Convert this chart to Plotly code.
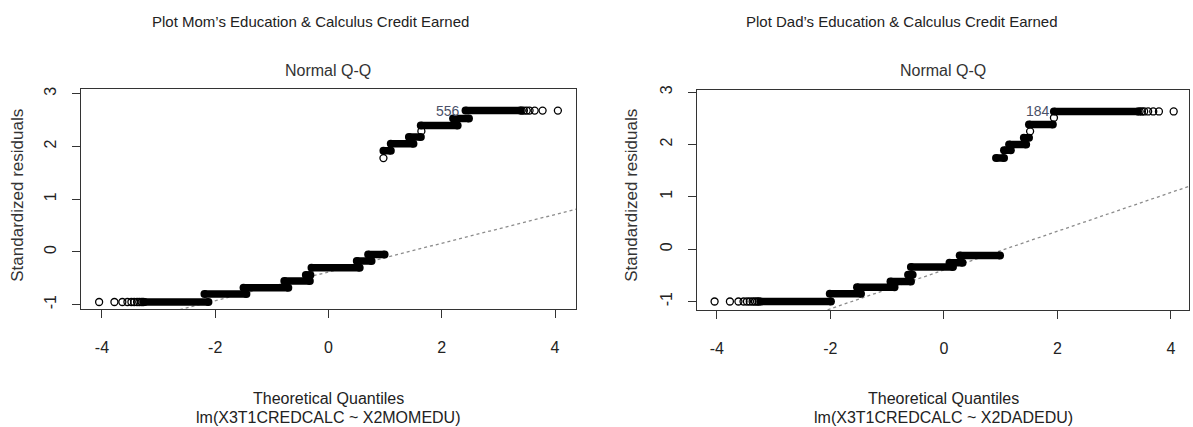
import plotly.graph_objects as go

W, H = 1193, 427

# ---------------- data ----------------
TICKS_X = [-4, -2, 0, 2, 4]
TICKS_Y = [-1, 0, 1, 2, 3]

# Mom's education model
MOM_STEP_Y  = [-0.95, -0.80, -0.68, -0.55, -0.44, -0.30, -0.17, -0.05, 1.92, 2.05, 2.18, 2.40, 2.53, 2.68]
MOM_STEP_X0 = [-3.25, -2.19, -1.50, -0.78, -0.40,  -0.30, 0.50, 0.70, 0.97, 1.10, 1.42, 1.63, 2.20, 2.42]
MOM_STEP_X1 = [-2.12, -1.45, -0.71, -0.33, -0.32,  0.55, 0.76, 0.99, 1.10, 1.50, 1.63, 2.28, 2.48, 3.39]
MOM_SINGLE_X = [0.97, 1.64]
MOM_SINGLE_Y = [1.78, 2.29]
MOM_TAIL_LX = [-4.05, -3.78, -3.64, -3.55, -3.48, -3.43, -3.38, -3.34, -3.30, -3.27]
MOM_TAIL_LY = -0.95
MOM_TAIL_RX = [3.41, 3.45, 3.50, 3.55, 3.64, 3.78, 4.05]
MOM_TAIL_RY = 2.68
MOM_QQ_X = [-4.37, 4.37]
MOM_QQ_Y = [-1.57, 0.81]
MOM_LABEL = ("556", 2.36, 2.68)

# Dad's education model
DAD_STEP_Y  = [-1.00, -0.85, -0.73, -0.62, -0.49, -0.34, -0.26, -0.12, 1.74, 1.89, 2.00, 2.13, 2.38, 2.63]
DAD_STEP_X0 = [-3.23, -2.01, -1.53, -0.94, -0.63, -0.58, 0.10, 0.28, 0.92, 1.06, 1.15, 1.41, 1.50, 1.94]
DAD_STEP_X1 = [-1.99, -1.46, -0.87, -0.58, -0.55, 0.16, 0.33, 0.99, 1.06, 1.18, 1.45, 1.50, 1.92, 3.42]
DAD_SINGLE_X = [1.52, 1.94]
DAD_SINGLE_Y = [2.25, 2.51]
DAD_TAIL_LX = [-4.04, -3.77, -3.62, -3.53, -3.47, -3.42, -3.37, -3.33, -3.29, -3.26]
DAD_TAIL_LY = -1.00
DAD_TAIL_RX = [3.45, 3.49, 3.53, 3.60, 3.69, 3.79, 4.05]
DAD_TAIL_RY = 2.63
DAD_QQ_X = [-4.35, 4.32]
DAD_QQ_Y = [-2.01, 1.20]
DAD_LABEL = ("184", 1.90, 2.63)

TITLES = ["Plot Mom\u2019s Education & Calculus Credit Earned",
          "Plot Dad\u2019s Education & Calculus Credit Earned"]
SUBTITLE = "Normal Q-Q"
XTITLE = "Theoretical Quantiles"
FORMULAS = ["lm(X3T1CREDCALC ~ X2MOMEDU)", "lm(X3T1CREDCALC ~ X2DADEDU)"]
YTITLE = "Standardized residuals"

# ---------------- layout geometry (pixels) ----------------
FONT = "Liberation Sans, Arial, sans-serif"
BOXES = [  # left, right, top, bottom in px
    (81, 576, 85, 308),
    (697, 1189, 86, 309),
]
XRANGES = [[-4.37, 4.37], [-4.35, 4.32]]
YRANGES = [[-1.09, 3.09], [-1.17, 3.04]]

fig = go.Figure()

panels = [
    (MOM_STEP_Y, MOM_STEP_X0, MOM_STEP_X1, MOM_SINGLE_X, MOM_SINGLE_Y,
     MOM_TAIL_LX, MOM_TAIL_LY, MOM_TAIL_RX, MOM_TAIL_RY, MOM_QQ_X, MOM_QQ_Y, MOM_LABEL),
    (DAD_STEP_Y, DAD_STEP_X0, DAD_STEP_X1, DAD_SINGLE_X, DAD_SINGLE_Y,
     DAD_TAIL_LX, DAD_TAIL_LY, DAD_TAIL_RX, DAD_TAIL_RY, DAD_QQ_X, DAD_QQ_Y, DAD_LABEL),
]

for i, p in enumerate(panels):
    sy, sx0, sx1, six, siy, tlx, tly, trx, try_, qx, qy, lab = p
    xa = "x" if i == 0 else "x2"
    ya = "y" if i == 0 else "y2"
    # qq reference line (dotted grey)
    fig.add_trace(go.Scatter(x=qx, y=qy, mode="lines", xaxis=xa, yaxis=ya,
                             line=dict(color="#8c8c8c", width=1.3, dash="dot"),
                             hoverinfo="skip", showlegend=False))
    # dense runs of overlapping circles -> thick black segments with round ends
    for y, a, b in zip(sy, sx0, sx1):
        fig.add_trace(go.Scatter(x=[a, b], y=[y, y], mode="lines+markers",
                                 xaxis=xa, yaxis=ya,
                                 line=dict(color="black", width=7.5),
                                 marker=dict(size=8, color="black", line=dict(width=0)),
                                 hoverinfo="skip", showlegend=False))
    # sparse open circles
    ox = list(tlx) + list(six) + list(trx)
    oy = [tly] * len(tlx) + list(siy) + [try_] * len(trx)
    fig.add_trace(go.Scatter(x=ox, y=oy, mode="markers", xaxis=xa, yaxis=ya,
                             marker=dict(size=7, symbol="circle-open", color="black",
                                         line=dict(width=1.3, color="black")),
                             hoverinfo="skip", showlegend=False))
    # point label
    fig.add_annotation(x=lab[1], y=lab[2], xref=xa, yref=ya, text=lab[0],
                       showarrow=False, xanchor="right", yanchor="middle",
                       font=dict(family=FONT, size=14, color="#4a5068"))

axis_common = dict(showline=True, mirror=True, linecolor="#333333", linewidth=1.2,
                   ticks="outside", ticklen=8, tickwidth=1.2, tickcolor="#333333",
                   showgrid=False, zeroline=False,
                   tickfont=dict(family=FONT, size=16, color="#222222"))

layout_axes = {}
for i, (l, r, t, b) in enumerate(BOXES):
    sfx = "" if i == 0 else "2"
    layout_axes["xaxis" + sfx] = dict(
        axis_common, domain=[l / W, r / W], range=XRANGES[i],
        tickvals=TICKS_X, ticktext=[str(v) for v in TICKS_X],
        anchor="y" + sfx, ticklabelstandoff=15)
    layout_axes["yaxis" + sfx] = dict(
        axis_common, domain=[1 - b / H, 1 - t / H], range=YRANGES[i],
        tickvals=TICKS_Y, ticktext=[str(v) for v in TICKS_Y], tickangle=-90,
        anchor="x" + sfx, ticklabelstandoff=10,
        tickfont=dict(family=FONT, size=16, color="#222222"))

fig.update_layout(width=W, height=H, margin=dict(l=0, r=0, t=0, b=0),
                  paper_bgcolor="white", plot_bgcolor="white", **layout_axes)

def ann(text, px, py, size, color="#222222", angle=0):
    fig.add_annotation(x=px / W, y=1 - py / H, xref="paper", yref="paper",
                       text=text, showarrow=False, xanchor="center", yanchor="middle",
                       textangle=angle, font=dict(family=FONT, size=size, color=color))

title_cx = [310, 902]
for i, (l, r, t, b) in enumerate(BOXES):
    cx = (l + r) / 2
    ann(TITLES[i], title_cx[i], 17, 15, "#222222")
    ann(SUBTITLE, cx, 66, 16, "#333333")
    ann(XTITLE, cx, 398, 16, "#222222")
    ann(FORMULAS[i], cx, 417, 16, "#222222")
    ann(YTITLE, [18, 632][i], 193, 17, "#333333", -90)

fig.write_html("out.html", config={"displayModeBar": False},
               post_script="document.body.style.margin='0px';document.body.style.padding='0px';")
